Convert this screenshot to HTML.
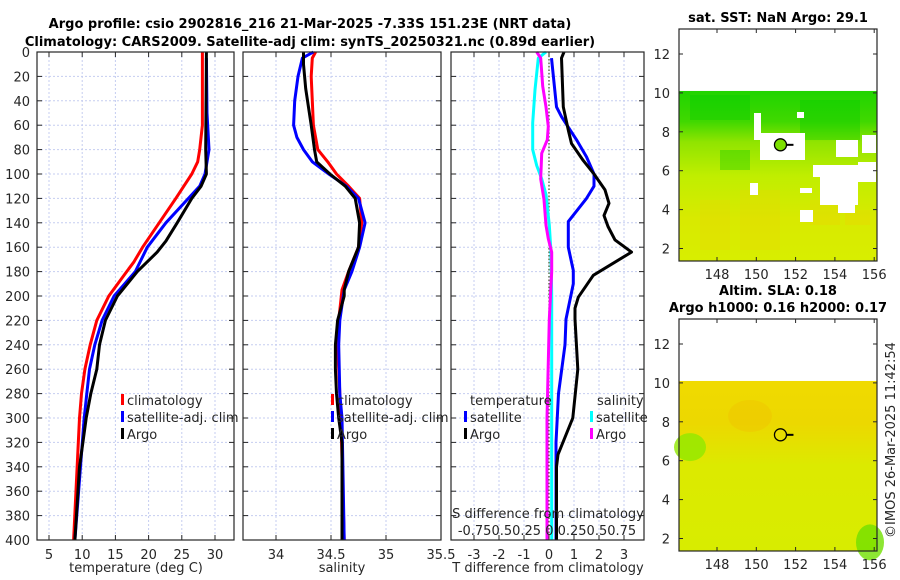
<!DOCTYPE html>
<html><head><meta charset="utf-8">
<style>
html,body{margin:0;padding:0;background:#fff;}
svg{display:block;font-family:"DejaVu Sans","Liberation Sans",sans-serif;}
.tk{font-size:13px;fill:#262626;}
.ttl{font-size:13px;font-weight:bold;fill:#000;}
</style></head>
<body>
<svg id="fig" width="900" height="580" viewBox="0 0 900 580" xmlns="http://www.w3.org/2000/svg">
<g>
<text class="ttl" x="310" y="28" text-anchor="middle">Argo profile: csio 2902816_216 21-Mar-2025 -7.33S 151.23E (NRT data)</text>
<text class="ttl" x="310" y="46" text-anchor="middle">Climatology: CARS2009. Satellite-adj clim: synTS_20250321.nc (0.89d earlier)</text>
</g>
<g id="maps"></g>
<g id="panels"></g>
<text class="tk" transform="translate(895,440) rotate(-90)" text-anchor="middle">©IMOS 26-Mar-2025 11:42:54</text>
</svg>
<script>
// ---- data ----
const depthTicks=[0,20,40,60,80,100,120,140,160,180,200,220,240,260,280,300,320,340,360,380,400];
const tempTicks=[5,10,15,20,25,30];
const salTicks=[34,34.5,35,35.5];
const diffTicks=[-3,-2,-1,0,1,2,3];

const tClimDepth=[0,20,60,80,90,100,110,120,140,160,172,180,200,220,240,260,280,300,400];
const tClimVal=[28.1,28.1,28.1,27.7,27.4,26.5,25.3,24.1,21.6,19.1,17.8,16.7,14.0,12.2,11.2,10.4,9.9,9.6,8.7];
const tSatDepth=[5,50,80,100,110,120,140,160,180,200,220,240,260,280,300,400];
const tSatVal=[28.7,28.8,29.1,28.5,27.7,26.0,22.6,19.8,18.0,14.8,13.0,11.9,11.1,10.7,10.3,8.9];
const tArgoDepth=[0,80,100,110,120,140,155,164,180,200,220,240,260,280,300,320,340,400];
const tArgoVal=[28.7,28.6,28.7,27.9,26.5,24.3,22.6,21.3,18.3,15.3,13.5,12.6,12.2,11.3,10.6,10.1,9.6,8.9];

const sClimDepth=[0,5,20,60,80,90,100,110,120,140,160,180,195,220,240,300,400];
const sClimVal=[34.36,34.33,34.32,34.34,34.38,34.47,34.55,34.66,34.76,34.78,34.75,34.66,34.60,34.57,34.56,34.59,34.62];
const sSatDepth=[0,5,20,40,60,70,80,90,100,110,120,140,160,180,195,220,240,280,300,400];
const sSatVal=[34.34,34.24,34.20,34.17,34.16,34.19,34.25,34.33,34.48,34.64,34.75,34.81,34.76,34.69,34.62,34.58,34.57,34.58,34.60,34.62];
const sArgoDepth=[0,10,30,60,80,90,100,110,120,140,160,180,195,200,220,240,260,280,300,320,400];
const sArgoVal=[34.25,34.25,34.27,34.32,34.35,34.37,34.49,34.63,34.72,34.76,34.75,34.66,34.62,34.62,34.56,34.54,34.54,34.55,34.57,34.60,34.60];

const dTSatDepth=[5,45,53,72,86,100,110,120,139,160,179,190,219,240,280,320,400];
const dTSatVal=[0.1,0.3,0.5,1.1,1.5,1.8,1.8,1.5,0.77,0.77,0.97,0.97,0.68,0.64,0.38,0.28,0.28];
const dTArgoDepth=[0,5,45,64,75,89,100,113,124,134,143,154,164,183,201,210,219,260,300,330,340,400];
const dTArgoVal=[0.6,0.5,0.57,0.77,0.9,1.37,1.8,2.24,2.4,2.2,2.36,2.64,3.3,1.77,1.17,1.04,1.04,1.15,0.95,0.36,0.3,0.3];
const dSSatDepth=[0,5,31,58,80,93,104,117,142,164,200,300,400];
const dSSatVal=[-0.03,-0.107,-0.14,-0.163,-0.163,-0.123,-0.073,-0.03,0.003,0.02,0.027,0.027,0.027];
const dSArgoDepth=[0,5,28,45,61,72,83,104,121,142,153,164,180,219,300,400];
const dSArgoVal=[-0.123,-0.083,-0.063,-0.03,-0.007,-0.017,-0.073,-0.083,-0.05,-0.03,-0.007,0.027,0.027,0.003,-0.02,-0.02];

// ---- helpers ----
const NS='http://www.w3.org/2000/svg';
function mk(tag,attrs,parent,txt){const e=document.createElementNS(NS,tag);for(const k in attrs)e.setAttribute(k,attrs[k]);if(txt!==undefined)e.textContent=txt;parent.appendChild(e);return e;}
const Y0=52,Y1=540;
const yD=d=>Y0+(Y1-Y0)*d/400;
const xT=t=>49+(t-5)*6.64;
const xS=s=>276+(s-34)*110;
const xDT=v=>549+v*25;
const xDS=v=>549+v*100;
const panels=document.getElementById('panels');

function frame(name,x0,x1,xticks,xfn,xlabels){
  const g=mk('g',{},panels);
  
  
  const gg=mk('g',{stroke:'#c5cdf0','stroke-width':1,'stroke-dasharray':'2,2'},g);
  
  
  xticks.forEach(t=>{const x=xfn(t);if(x>x0+1&&x<x1-1)mk('line',{x1:x,x2:x,y1:Y0,y2:Y1},gg);});
  depthTicks.forEach(d=>{const y=yD(d);if(d>0&&d<400)mk('line',{x1:x0,x2:x1,y1:y,y2:y},gg);});
  const tk=mk('g',{stroke:'#262626','stroke-width':1},g);
  xticks.forEach(t=>{const x=xfn(t);if(x>x0&&x<x1){mk('line',{x1:x,x2:x,y1:Y1,y2:Y1-5},tk);mk('line',{x1:x,x2:x,y1:Y0,y2:Y0+5},tk);}});
  depthTicks.forEach(d=>{const y=yD(d);mk('line',{x1:x0,x2:x0+5,y1:y,y2:y},tk);mk('line',{x1:x1,x2:x1-5,y1:y,y2:y},tk);});
  if(xlabels){const lg=mk('g',{},g);
    
    
    xticks.forEach(t=>mk('text',{class:'tk',x:xfn(t),y:Y1+19,'text-anchor':'middle'},lg,String(t)));}
  return g;
}
function box(g,x0,x1){mk('rect',{x:x0,y:Y0,width:x1-x0,height:Y1-Y0,fill:'none',stroke:'#262626','stroke-width':1.2},g);}
function line(g,name,depths,vals,xfn,color,w){
  const pts=depths.map((d,i)=>xfn(vals[i]).toFixed(1)+','+yD(d).toFixed(1)).join(' ');
  const p=mk('polyline',{points:pts,fill:'none',stroke:color,'stroke-width':w||3,'stroke-linejoin':'round'},g);
  
  
}
function legend(g,name,x,y,items){
  const lg=mk('g',{},g);
  
  
  items.forEach((it,i)=>{const yy=y+i*17;
    mk('rect',{x:x,y:yy-11,width:3,height:11,fill:it[1]},lg);
    mk('text',{class:'tk',x:x+6,y:yy},lg,it[0]);});
}

// panel 1 temperature
const p1=frame('temperature-panel',37,234,tempTicks,xT,true);
const yl=mk('g',{},p1);


depthTicks.forEach(d=>mk('text',{class:'tk',x:30,y:yD(d)+5,'text-anchor':'end'},yl,String(d)));
line(p1,'temp-climatology-line',tClimDepth,tClimVal,xT,'#ff0000');
line(p1,'temp-satellite-line',tSatDepth,tSatVal,xT,'#0000ff');
line(p1,'temp-argo-line',tArgoDepth,tArgoVal,xT,'#000000');
box(p1,37,234);
mk('text',{class:'tk',x:136,y:572,'text-anchor':'middle'},p1,'temperature (deg C)');
legend(p1,'temperature-legend',121,405,[['climatology','#ff0000'],['satellite-adj. clim','#0000ff'],['Argo','#000000']]);

// panel 2 salinity
const p2=frame('salinity-panel',243,441,salTicks,xS,true);
line(p2,'sal-climatology-line',sClimDepth,sClimVal,xS,'#ff0000');
line(p2,'sal-satellite-line',sSatDepth,sSatVal,xS,'#0000ff');
line(p2,'sal-argo-line',sArgoDepth,sArgoVal,xS,'#000000');
box(p2,243,441);
mk('text',{class:'tk',x:342,y:572,'text-anchor':'middle'},p2,'salinity');
legend(p2,'salinity-legend',331,405,[['climatology','#ff0000'],['satellite-adj. clim','#0000ff'],['Argo','#000000']]);

// panel 3 differences
const p3=frame('difference-panel',451,644,diffTicks,xDT,true);
mk('line',{x1:549,x2:549,y1:Y0,y2:Y1,stroke:'#405020','stroke-width':1.2,'stroke-dasharray':'1.5,2'},p3);
line(p3,'dT-satellite-line',dTSatDepth,dTSatVal,xDT,'#0000ff');
line(p3,'dT-argo-line',dTArgoDepth,dTArgoVal,xDT,'#000000');
line(p3,'dS-satellite-line',dSSatDepth,dSSatVal,xDS,'#00ffff');
line(p3,'dS-argo-line',dSArgoDepth,dSArgoVal,xDS,'#ff00ff');
box(p3,451,644);
mk('text',{class:'tk',x:548,y:572,'text-anchor':'middle'},p3,'T difference from climatology');
mk('text',{class:'tk',x:548,y:518,'text-anchor':'middle'},p3,'S difference from climatology');
mk('text',{class:'tk',x:547,y:535,'text-anchor':'middle'},p3,'-0.750.50.25 0 0.250.50.75');
mk('text',{class:'tk',x:470,y:405},p3,'temperature');
mk('text',{class:'tk',x:597,y:405},p3,'salinity');
legend(p3,'dT-legend',464,422,[['satellite','#0000ff'],['Argo','#000000']]);
legend(p3,'dS-legend',590,422,[['satellite','#00ffff'],['Argo','#ff00ff']]);

// ---- maps ----
const maps=document.getElementById('maps');
function map(name,top,bot,yLat12,title,kind){
  const g=mk('g',{},maps);
  
  
  const x0=679,x1=877;
  const lx=l=>717+(l-148)*19.65;
  const ly=l=>yLat12+(12-l)*19.45;
  const dTop=ly(10.1);
  const id=name+'-grad';
  const defs=mk('defs',{},g);
  const lg=mk('linearGradient',{id:id,x1:0,y1:0,x2:0,y2:1},defs);
  if(kind==='sst'){
    [['0','#20d400'],['0.18','#40d800'],['0.3','#90e400'],['0.5','#c0ee00'],['0.75','#d8ea00'],['1','#d8ee00']].forEach(s=>mk('stop',{offset:s[0],'stop-color':s[1]},lg));
  }else{
    [['0','#f0da00'],['0.25','#ecd800'],['0.5','#dcea00'],['1','#d8ec00']].forEach(s=>mk('stop',{offset:s[0],'stop-color':s[1]},lg));
  }
  mk('rect',{x:x0,y:dTop,width:x1-x0,height:bot-dTop,fill:'url(#'+id+')'},g);
  if(kind==='sst'){
    [[740,190,40,60],[810,200,30,25],[700,200,30,50],[845,210,25,15]].forEach(r=>mk('rect',{x:r[0],y:r[1],width:r[2],height:r[3],fill:'#f0d000',opacity:0.3},g));
    [[690,95,60,25],[800,100,60,40],[720,150,30,20]].forEach(r=>mk('rect',{x:r[0],y:r[1],width:r[2],height:r[3],fill:'#00cc00',opacity:0.35},g));
    [[760,133,45,27],[754,113,7,27],[797,112,7,6],[836,140,22,17],[862,135,14,18],[813,165,55,12],[820,175,38,30],[858,162,18,20],[750,183,8,12],[800,210,13,12],[838,205,17,8],[800,188,12,5]].forEach(r=>mk('rect',{x:r[0],y:r[1],width:r[2],height:r[3],fill:'#fff'},g));
  }else{
    mk('ellipse',{cx:690,cy:ly(6.7),rx:16,ry:14,fill:'#90e800',opacity:0.8},g);
    mk('ellipse',{cx:870,cy:ly(1.8),rx:14,ry:18,fill:'#70e000',opacity:0.8},g);
    mk('ellipse',{cx:750,cy:ly(8.3),rx:22,ry:16,fill:'#f0c000',opacity:0.4},g);
  }
  mk('circle',{cx:lx(151.23),cy:ly(7.33),r:6,fill:kind==='sst'?'#7ce000':'none',stroke:'#000','stroke-width':1.3},g);
  mk('line',{x1:lx(151.23)+6,x2:lx(151.23)+13,y1:ly(7.33),y2:ly(7.33),stroke:'#000','stroke-width':2},g);
  mk('rect',{x:x0,y:top,width:x1-x0,height:bot-top,fill:'none',stroke:'#262626','stroke-width':1.2},g);
  const tk=mk('g',{stroke:'#262626'},g);
  [148,150,152,154,156].forEach(l=>{const x=lx(l);mk('line',{x1:x,x2:x,y1:bot,y2:bot-4},tk);mk('line',{x1:x,x2:x,y1:top,y2:top+4},tk);mk('text',{class:'tk',x:x,y:bot+18,'text-anchor':'middle',stroke:'none'},g,String(l));});
  [2,4,6,8,10,12].forEach(l=>{const y=ly(l);mk('line',{x1:x0,x2:x0+4,y1:y,y2:y},tk);mk('line',{x1:x1,x2:x1-4,y1:y,y2:y},tk);mk('text',{class:'tk',x:670,y:y+5,'text-anchor':'end'},g,String(l));});
  title.forEach((t,i)=>mk('text',{class:'ttl',x:778,y:top-(title.length-1-i)*17-7,'text-anchor':'middle'},g,t));
}
map('sst-map',29,261,54,['sat. SST: NaN Argo: 29.1'],'sst');
map('sla-map',319,551,344,['Altim. SLA: 0.18','Argo h1000: 0.16 h2000: 0.17'],'sla');
</script>
</body></html>
